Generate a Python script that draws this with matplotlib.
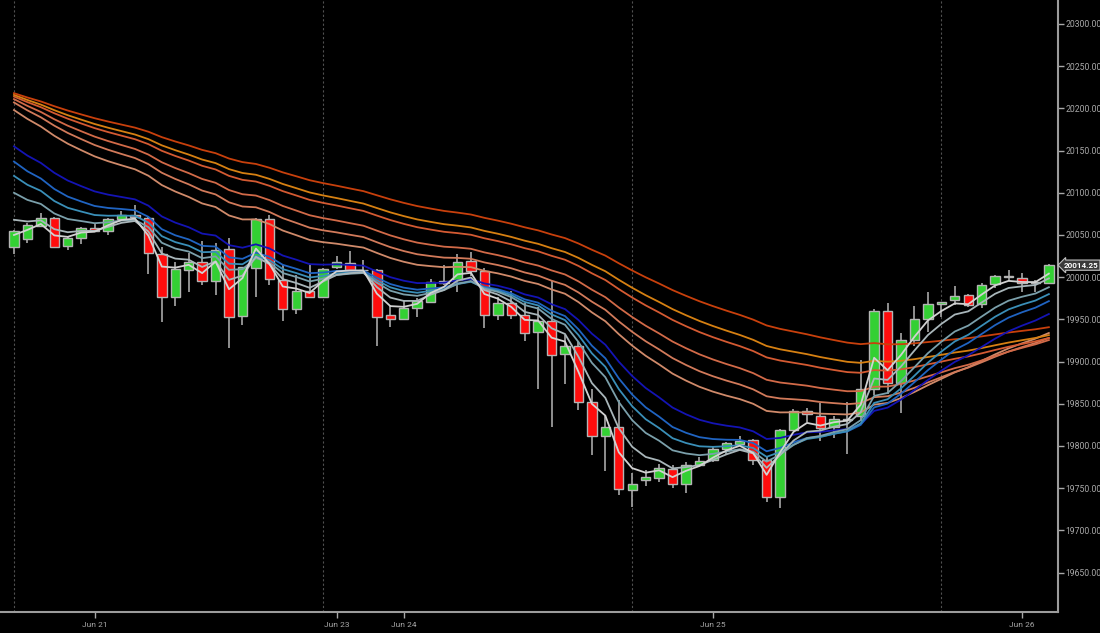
import matplotlib
matplotlib.use("Agg")
import matplotlib.pyplot as plt
import numpy as np

# hourly candles, Jun 21 - Jun 26
opens = [20036, 20045, 20061, 20070, 20037, 20046, 20058, 20055, 20069, 20074,
         20070, 20028, 19976, 20008, 20018, 19995, 20033, 19954, 20011, 20069,
         19997, 19962, 19984, 19976, 20012, 20017, 20009, 20009, 19955, 19951,
         19964, 19970, 19993, 19997, 20019, 20007, 19955, 19969, 19955, 19935,
         19948, 19909, 19919, 19852, 19812, 19822, 19748, 19760, 19762, 19773,
         19755, 19778, 19783, 19796, 19802, 19807, 19783, 19740, 19819, 19841,
         19836, 19822, 19831, 19835, 19868, 19960, 19875, 19926, 19950, 19968,
         19973, 19979, 19968, 19992, 20000, 19999, 19993, 19993]
highs = [20056, 20064, 20076, 20071, 20048, 20060, 20063, 20070, 20078, 20086,
         20071, 20036, 20018, 20029, 20043, 20040, 20046, 20012, 20070, 20074,
         20014, 20003, 20014, 20011, 20025, 20031, 20020, 20010, 19967, 19973,
         19975, 19998, 20014, 20028, 20030, 20011, 19977, 19984, 19969, 19965,
         19996, 19932, 19924, 19868, 19835, 19854, 19768, 19772, 19779, 19778,
         19781, 19787, 19799, 19805, 19812, 19808, 19787, 19820, 19844, 19845,
         19851, 19835, 19852, 19902, 19962, 19969, 19934, 19966, 19982, 19971,
         19990, 19980, 19993, 20003, 20008, 20005, 19997, 20016]
lows = [20028, 20041, 20060, 20034, 20032, 20039, 20054, 20050, 20068, 20069,
        20004, 19947, 19966, 19983, 19991, 19979, 19916, 19943, 19977, 19991,
        19948, 19956, 19975, 19975, 20010, 20008, 20005, 19918, 19941, 19950,
        19953, 19969, 19991, 19983, 20001, 19940, 19949, 19950, 19924, 19868,
        19823, 19874, 19843, 19789, 19770, 19742, 19728, 19752, 19757, 19750,
        19744, 19776, 19781, 19791, 19801, 19778, 19734, 19727, 19818, 19829,
        19806, 19809, 19790, 19830, 19860, 19862, 19839, 19918, 19935, 19953,
        19967, 19965, 19964, 19987, 19995, 19983, 19983, 19992]
closes = [20055, 20062, 20070, 20036, 20046, 20058, 20055, 20069, 20074, 20071,
          20029, 19976, 20010, 20018, 19995, 20032, 19953, 20012, 20069, 19998,
          19962, 19984, 19976, 20010, 20018, 20009, 20008, 19953, 19951, 19964,
          19972, 19994, 19996, 20018, 20007, 19955, 19969, 19955, 19934, 19948,
          19908, 19919, 19852, 19812, 19822, 19749, 19755, 19763, 19774, 19755,
          19778, 19782, 19796, 19803, 19806, 19783, 19740, 19819, 19841, 19838,
          19821, 19832, 19832, 19868, 19960, 19875, 19926, 19951, 19968, 19971,
          19978, 19967, 19991, 20001, 20001, 19993, 19994, 20014.25]

tick_pos = [6, 24, 29, 52, 75]
tick_labels = ['Jun 21', 'Jun 23', 'Jun 24', 'Jun 25', 'Jun 26']
grid_pos = [0, 23, 46, 69]

# moving average ribbons: period, value at first bar
short_periods = [3, 5, 8, 10, 12, 16]
short_start = [20050, 20068, 20100, 20120, 20137, 20155]
short_colors = ['#d2d2d2', '#a9b6ba', '#7ba0ab', '#3a8fb8', '#2064c2', '#1414b4']
long_periods = [25, 30, 36, 45, 50, 60]
long_start = [20198, 20207, 20211, 20214, 20216, 20218]
long_colors = ['#d08a6a', '#d27a5a', '#d26a48', '#d45a32', '#d68012', '#c8400c']


def ema(values, period, start):
    a = 2.0 / (period + 1)
    out = [start]
    for v in values[1:]:
        out.append(out[-1] + a * (v - out[-1]))
    return np.array(out)


fig = plt.figure(figsize=(11, 6.33), dpi=100, facecolor='black')
ax = fig.add_axes([0, 21 / 633, 1058 / 1100, 612 / 633])
ax.set_facecolor('black')

x = np.arange(len(closes))
o = np.array(opens, dtype=float)
c = np.array(closes, dtype=float)
bottoms = np.minimum(o, c)
heights = np.maximum(np.abs(c - o), 1.0)
colors = ['#33d033' if cc >= oo else '#ff0d0d' for oo, cc in zip(o, c)]

for g in grid_pos:
    ax.axvline(g, color='#505050', lw=0.8, ls=(0, (2, 2)), zorder=1)

ax.vlines(x, lows, highs, color='#9a9a9a', lw=1.3, zorder=2)
ax.bar(x, heights, bottom=bottoms, width=0.7, color=colors,
       edgecolor='#b4b4b4', linewidth=1, zorder=3)

for p, s, col in zip(long_periods, long_start, long_colors):
    ax.plot(x, ema(c, p, s), color=col, lw=1.3, zorder=4)
for p, s, col in zip(short_periods[::-1], short_start[::-1], short_colors[::-1]):
    ax.plot(x, ema(c, p, s), color=col, lw=1.3, zorder=5)

ax.set_xlim(-1.04, 77.68)
ax.set_ylim(19603.3, 20328.4)

font = ['Roboto', 'DejaVu Sans']
yt = np.arange(19650, 20301, 50)
ax.yaxis.tick_right()
ax.set_yticks(yt)
ax.set_yticklabels(['%.2f' % v for v in yt], family=font)
ax.set_xticks(tick_pos)
ax.set_xticklabels(tick_labels, family=font)
ax.tick_params(axis='y', colors='#a8a8a8', labelsize=6.2, length=4, width=1, pad=1.5)
ax.tick_params(axis='x', colors='#a8a8a8', labelsize=6, length=4, width=1, pad=3)

for side in ['top', 'left']:
    ax.spines[side].set_visible(False)
for side in ['right', 'bottom']:
    ax.spines[side].set_color('#9c9c9c')
    ax.spines[side].set_linewidth(1.5)

ax.annotate('%.2f' % closes[-1], xy=(1.0, closes[-1]),
            xycoords=('axes fraction', 'data'), xytext=(4, 0),
            textcoords='offset points', ha='left', va='center',
            fontsize=5.8, color='white', family=font, fontweight='bold',
            bbox=dict(boxstyle='larrow,pad=0.2', fc='#3a3a3a', ec='#c0c0c0', lw=0.8))

fig.savefig('out.png', dpi=100, facecolor='black')
